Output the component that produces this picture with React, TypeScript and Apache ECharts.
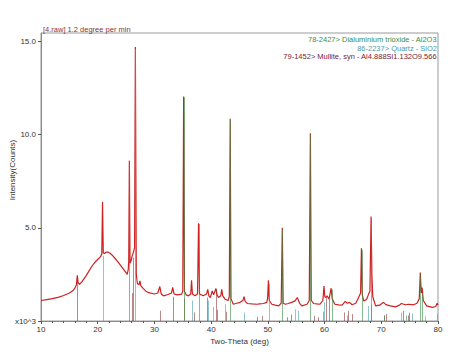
import React, { useEffect, useRef } from "react";
import * as echarts from "echarts";

// Measured pattern (2θ in degrees, intensity in thousands of counts)
const patternX: number[] = [
  10.0, 11.0, 12.0, 13.0, 14.0, 15.0, 15.6, 16.0, 16.25, 16.4, 16.55, 16.8, 17.2, 18.0, 18.5, 19.0, 19.5, 20.0, 20.5, 20.72,
  20.85, 20.98, 21.2, 21.5, 21.8, 22.1, 22.5, 23.0, 23.5, 24.0, 24.5, 25.0, 25.2, 25.38, 25.47, 25.58, 25.7, 25.9, 26.05, 26.2,
  26.35, 26.5, 26.64, 26.8, 27.0, 27.3, 27.45, 27.6, 28.0, 28.5, 29.0, 30.0, 30.6, 30.95, 31.2, 31.6, 32.4, 33.0, 33.22, 33.45,
  34.0, 34.8, 35.0, 35.15, 35.3, 35.6, 36.0, 36.4, 36.55, 36.7, 37.15, 37.6, 37.78, 37.95, 38.6, 39.2, 39.4, 39.6, 39.85, 40.2,
  40.45, 40.85, 41.05, 41.3, 41.7, 41.87, 42.05, 42.45, 43.0, 43.2, 43.36, 43.5, 43.9, 44.5, 45.1, 45.6, 45.8, 46.0, 46.4, 47.2,
  48.05, 48.6, 49.2, 49.8, 49.95, 50.1, 50.25, 50.7, 51.3, 51.9, 52.35, 52.55, 52.7, 53.1, 53.6, 54.2, 54.8, 55.2, 55.4, 55.6,
  56.0, 56.9, 57.3, 57.5, 57.65, 58.06, 58.6, 59.2, 59.7, 59.9, 60.05, 60.2, 60.45, 60.8, 61.15, 61.35, 61.8, 62.5, 63.1, 63.65,
  64.0, 64.4, 64.85, 65.5, 66.0, 66.35, 66.5, 66.65, 66.9, 67.4, 67.8, 68.0, 68.2, 68.35, 68.5, 69.0, 69.7, 70.4, 70.8, 71.6,
  72.5, 73.2, 73.55, 74.25, 74.85, 75.7, 76.3, 76.7, 76.88, 77.05, 77.2, 77.4, 78.0, 79.0, 79.6, 79.85, 80.0,
];
const patternY: number[] = [
  1.10, 1.15, 1.20, 1.27, 1.37, 1.50, 1.62, 1.78, 1.95, 2.45, 2.05, 1.97, 2.10, 2.45, 2.70, 2.95, 3.15, 3.30, 3.45, 3.60,
  6.40, 3.65, 3.62, 3.70, 3.70, 3.65, 3.55, 3.38, 3.20, 3.00, 2.80, 2.60, 2.50, 2.75, 3.20, 8.60, 3.10, 3.25, 3.45, 3.60,
  3.75, 3.95, 14.70, 2.50, 2.00, 1.95, 2.15, 1.90, 1.75, 1.60, 1.52, 1.45, 1.50, 1.85, 1.45, 1.35, 1.42, 1.50, 1.80, 1.45,
  1.40, 1.44, 1.60, 12.05, 1.60, 1.40, 1.35, 1.45, 2.18, 1.45, 1.35, 1.45, 5.25, 1.45, 1.35, 1.45, 1.70, 1.35, 1.26, 1.61,
  1.40, 1.74, 1.40, 1.26, 1.35, 1.70, 1.35, 1.17, 1.10, 1.30, 10.85, 1.20, 0.90, 0.95, 1.00, 1.10, 1.31, 1.05, 0.94, 0.92,
  0.90, 0.92, 0.94, 1.00, 1.20, 2.18, 1.10, 0.90, 0.85, 0.81, 0.95, 5.00, 0.95, 0.90, 0.94, 1.00, 1.08, 1.26, 1.10, 0.95,
  0.81, 0.90, 1.10, 10.07, 1.10, 0.94, 0.92, 0.90, 1.10, 1.88, 1.30, 1.26, 1.35, 1.17, 1.76, 1.20, 0.90, 0.87, 0.85, 1.05,
  0.95, 1.00, 0.87, 0.95, 1.26, 1.50, 3.90, 1.40, 1.08, 1.15, 1.47, 1.60, 5.60, 2.40, 1.30, 0.81, 0.85, 1.00, 0.88, 0.81,
  0.76, 0.85, 0.94, 0.87, 0.90, 0.87, 0.95, 1.20, 2.60, 1.50, 1.80, 1.10, 0.81, 0.73, 0.78, 0.95, 0.85,
];

// Reference sticks: [2θ, height]
const corundumSticks: number[][] = [
  [25.58, 8.6], [35.15, 12.0], [37.78, 5.2], [43.36, 10.8], [52.55, 4.9], [57.5, 10.0], [59.74, 0.5], [61.3, 1.7],
  [66.52, 3.8], [68.21, 5.5], [70.42, 0.3], [74.3, 0.3], [76.88, 2.5], [77.23, 1.5],
];
const quartzSticks: number[][] = [
  [20.86, 3.5], [26.64, 14.6], [36.54, 1.1], [39.47, 1.1], [40.29, 0.75], [42.45, 0.9], [45.79, 0.45], [50.14, 2.0],
  [54.87, 0.62], [55.33, 0.55], [59.96, 1.0], [63.99, 0.3], [67.74, 0.8], [68.14, 0.9], [73.47, 0.45], [75.4, 0.4],
  [77.68, 0.25], [79.9, 0.4],
];
const mulliteSticks: number[][] = [
  [16.43, 2.4], [26.0, 1.5], [26.27, 3.4], [30.96, 0.55], [33.22, 1.3], [35.28, 1.2], [37.0, 0.46], [39.24, 1.26],
  [40.87, 1.7], [41.1, 0.6], [42.6, 0.5], [48.05, 0.23], [49.05, 0.28], [53.4, 0.2], [54.1, 0.35], [58.1, 0.28],
  [58.8, 0.2], [60.25, 1.26], [60.7, 1.17], [63.5, 0.46], [64.1, 0.55], [64.9, 0.37], [70.4, 0.3], [70.8, 0.37],
  [73.9, 0.55], [74.7, 0.3], [74.9, 0.45],
];

const yTickValues: number[] = [0, 5, 10, 15];
const title = "[4.raw] 1.2 degree per min";
const legendLines: string[] = [
  "78-2427> Dialuminium trioxide - Al2O3",
  "86-2237> Quartz - SiO2",
  "79-1452> Mullite, syn - Al4.888Si1.132O9.566",
];

const FONT = "'Liberation Sans', Arial, sans-serif";
const RED = "#cc2222";
const GREEN = "#3a8e48";
const TEAL = "#4a9cab";
const MAROON = "#8a3535";

function stickSeries(name: string, data: number[][], color: string) {
  return {
    name,
    type: "custom",
    z: 4,
    data,
    renderItem: (_p: any, api: any) => {
      const p0 = api.coord([api.value(0), 0]);
      const p1 = api.coord([api.value(0), api.value(1)]);
      const x = Math.round(p0[0]) + 0.5;
      return {
        type: "line",
        shape: { x1: x, y1: p0[1], x2: x, y2: p1[1] },
        style: { stroke: color, lineWidth: 1, opacity: 0.6 },
      };
    },
  };
}

export default function App() {
  const ref = useRef<HTMLDivElement>(null);
  useEffect(() => {
    document.body.style.margin = "0";
    if (!ref.current) return;
    const chart = echarts.init(ref.current, null, { renderer: "svg" });
    const lineData = patternX.map((x, i) => [x, patternY[i]]);
    chart.setOption({
      animation: false,
      backgroundColor: "#ffffff",
      textStyle: { fontFamily: FONT },
      grid: {
        left: 41,
        right: 22,
        top: 33,
        bottom: 34,
        show: true,
        borderColor: "#9a9a9a",
        borderWidth: 1,
        backgroundColor: "transparent",
      },
      xAxis: {
        type: "value",
        min: 10,
        max: 80,
        interval: 10,
        axisLine: { show: true, lineStyle: { color: "#8a8a8a" } },
        axisTick: { show: true, length: 3, lineStyle: { color: "#555" } },
        minorTick: { show: true, splitNumber: 5, length: 2, lineStyle: { color: "#555" } },
        splitLine: { show: false },
        axisLabel: { color: "#333", fontSize: 8, margin: 4, fontFamily: FONT },
        name: "Two-Theta (deg)",
        nameLocation: "middle",
        nameGap: 15,
        nameTextStyle: { color: "#333", fontSize: 8, fontFamily: FONT },
      },
      yAxis: {
        type: "value",
        min: 0,
        max: 15.45,
        axisLine: { show: true, lineStyle: { color: "#8a8a8a" } },
        axisTick: { show: true, length: 3, customValues: yTickValues, lineStyle: { color: "#555" } },
        splitLine: { show: false },
        axisLabel: {
          color: "#333",
          fontSize: 8,
          margin: 5,
          fontFamily: FONT,
          customValues: yTickValues,
          formatter: (v: number) => (v === 0 ? "x10^3" : v.toFixed(1)),
        },
      },
      graphic: [
        {
          type: "text",
          x: 12,
          y: 170,
          rotation: Math.PI / 2,
          style: { text: "Intensity(Counts)", fill: "#333", font: `8px ${FONT}`, align: "center", verticalAlign: "middle" },
        },
        {
          type: "text",
          x: 43,
          y: 29,
          style: { text: title, fill: MAROON, font: `7.5px ${FONT}`, align: "left", verticalAlign: "middle" },
        },
        ...legendLines.map((t, i) => ({
          type: "text",
          right: 23,
          top: 35.5 + i * 8.6,
          style: { text: t, fill: [GREEN, TEAL, "#7a2030"][i], font: `7.5px ${FONT}` },
        })),
      ],
      series: [
        {
          name: "4.raw",
          type: "line",
          z: 3,
          data: lineData,
          showSymbol: false,
          lineStyle: { color: RED, width: 1.2 },
        },
        stickSeries("Mullite", mulliteSticks, "#8a3a3a"),
        stickSeries("Quartz", quartzSticks, TEAL),
        stickSeries("Corundum", corundumSticks, GREEN),
      ],
    });
    return () => chart.dispose();
  }, []);
  return <div ref={ref} style={{ width: 460, height: 355 }} />;
}
